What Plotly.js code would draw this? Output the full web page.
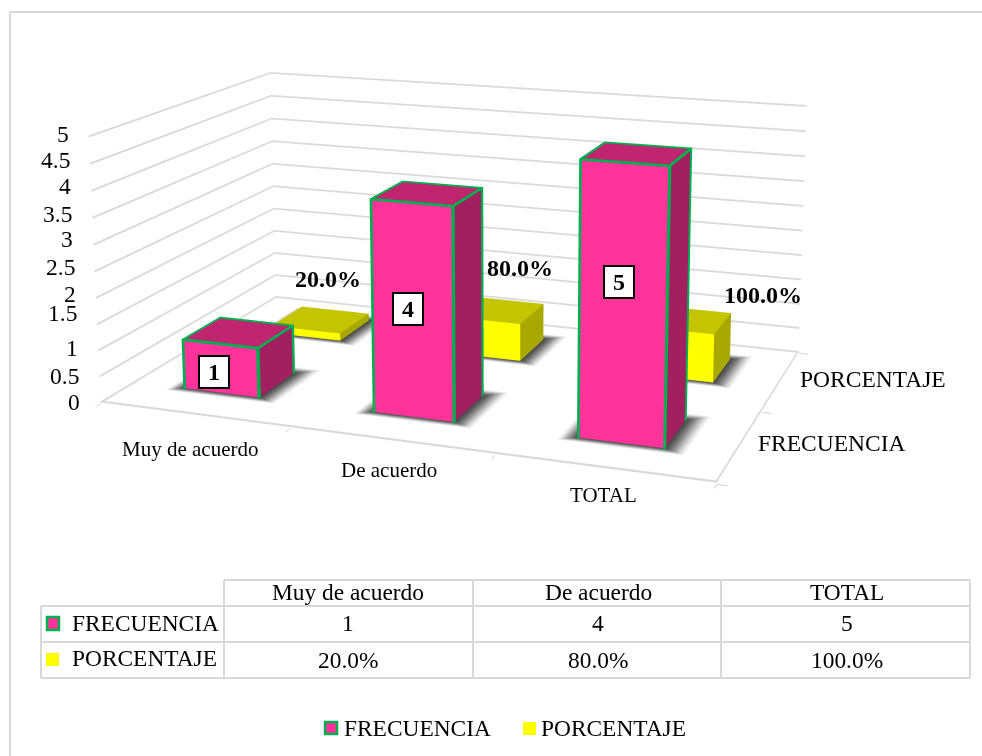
<!DOCTYPE html><html><head><meta charset="utf-8"><script src="https://cdn.plot.ly/plotly-3.0.1.min.js"></script>
<style>html,body{margin:0;width:982px;height:756px;overflow:hidden;background:#fff}#g{position:absolute;left:0;top:-643px;width:1008px;height:1536px}</style></head><body><div id="g"></div><script>
var categories=['Muy de acuerdo','De acuerdo','TOTAL'];
var seriesNames=['FRECUENCIA','PORCENTAJE'];
var frecuencia=[1,4,5];
var porcentaje=[0.2,0.8,1.0];
var zTicks=[0,0.5,1,1.5,2,2.5,3,3.5,4,4.5,5];

var W=1008,H=1536,TOP=-643,FONT='"Liberation Serif","Times New Roman",serif';
var PX=function(x){return x/W},PY=function(y){return 1-(y-TOP)/H};
var pct=function(v){return (v*100).toFixed(1)+'%'};
var PINK=['#ff3399','#a32060','#c02670'],YEL=['#ffff00','#a8a800','#c4c400'],GREEN='#00b050',GRID='#d9d9d9';
var BW=0.2,BD=0.2,XMAX=categories.length,YMAX=seriesNames.length,ZMAX=5,ZPAD=.03;
var FLAT={ambient:1,diffuse:0,specular:0,fresnel:0,roughness:1};
// one mesh made of any number of axis-aligned cuboids [x0,x1,y0,y1,z0,z1] in data units
function cuboids(list,color,faces){var m={type:'mesh3d',x:[],y:[],z:[],i:[],j:[],k:[],flatshading:true,lighting:FLAT,hoverinfo:'skip',showscale:false};
 var I=[0,0,4,4,0,0,1,1,2,2,3,3],J=[1,2,5,6,1,5,2,6,3,7,0,4],K=[2,3,6,7,5,4,6,5,7,6,4,7];
 list.forEach(function(b,n){var o=n*8;
  m.x.push(b[0],b[1],b[1],b[0],b[0],b[1],b[1],b[0]);m.y.push(b[2],b[2],b[3],b[3],b[2],b[2],b[3],b[3]);m.z.push(b[4],b[4],b[4],b[4],b[5],b[5],b[5],b[5]);
  I.forEach(function(v,t){m.i.push(v+o);m.j.push(J[t]+o);m.k.push(K[t]+o)})});
 if(faces)m.facecolor=faces;else m.color=color;return m}
function bar(cx,cy,z,c){return cuboids([[cx-BW,cx+BW,cy-BD,cy+BD,0,z]],null,[c[2],c[2],c[2],c[2],c[0],c[0],c[1],c[1],c[1],c[1],c[1],c[1]])}
var TX=.005,TY=.009,TZ=.016;
function seg(a,b){return [Math.min(a[0],b[0])-TX,Math.max(a[0],b[0])+TX,Math.min(a[1],b[1])-TY,Math.max(a[1],b[1])+TY,Math.max(0,Math.min(a[2],b[2])-TZ),Math.max(a[2],b[2])+TZ]}
function barEdges(cx,cy,z){var x0=cx-BW,x1=cx+BW,y0=cy-BD,y1=cy+BD;
 return [[[x0,y0,0],[x1,y0,0]],[[x1,y0,0],[x1,y1,0]],[[x0,y0,z],[x1,y0,z]],[[x1,y0,z],[x1,y1,z]],[[x1,y1,z],[x0,y1,z]],[[x0,y1,z],[x0,y0,z]],[[x0,y0,0],[x0,y0,z]],[[x1,y0,0],[x1,y0,z]],[[x1,y1,0],[x1,y1,z]]].map(function(e){return seg(e[0],e[1])})}
// grid ribbons on the two walls and the floor edges
var GZ=.016,grid=[];
zTicks.forEach(function(k){var z0=k-GZ,z1=k+GZ;grid.push([0,.004,0,YMAX,z0,z1],[0,XMAX,YMAX-.006,YMAX,z0,z1])});
grid.push([0,XMAX,0,.024,-.002,.002],[XMAX-.008,XMAX,0,YMAX,-.002,.002]);
var traces=[cuboids(grid,GRID)];
// soft contact shadow: nested grey layers on the floor
var shadeGrey=['#efefef','#dadada','#c0c0c0','#a5a5a5','#8a8a8a','#727272','#5e5e5e','#4c4c4c'];
shadeGrey.forEach(function(g,n){var s=.09*(shadeGrey.length-n)/shadeGrey.length,z=.006+n*.006,q=[];
 categories.forEach(function(c,i){[.5,1.5].forEach(function(cy){var cx=i+.5;q.push([cx-BW-s,cx+BW+s,cy-BD-s*.3,cy+BD+s*1.4,z,z+.002])})});
 traces.push(cuboids(q,g))});
categories.forEach(function(c,i){traces.push(bar(i+.5,1.5,porcentaje[i],YEL))});
var eds=[];
categories.forEach(function(c,i){traces.push(bar(i+.5,.5,frecuencia[i],PINK));eds=eds.concat(barEdges(i+.5,.5,frecuencia[i]))});
traces.push(cuboids(eds,GREEN));

var base={showbackground:false,showticklabels:false,title:{text:''},showspikes:false,showgrid:false,zeroline:false,showline:false,ticks:'outside',ticklen:8,tickcolor:'#cfcfcf',tickwidth:2,tickmode:'array'};
var sa=[];
function t3(x,y,z,text,o){sa.push(Object.assign({x:x,y:y,z:z,text:text,showarrow:false,font:{family:FONT,size:21,color:'#000'}},o))}
var zNudge=[0,0,2,11,4,4,6,4,5,4,2];
zTicks.forEach(function(k,n){t3(0,0,k,String(k),{xanchor:'right',xshift:-18,yshift:zNudge[n],font:{family:FONT,size:23.5,color:'#000'}})});
var catShift=[[-4,-35],[-1,-30],[0,-27]];
categories.forEach(function(c,i){t3(i+.5,0,0,c,{xshift:catShift[i][0],yshift:catShift[i][1]})});
var serShift=[[16,2],[17,1]];
seriesNames.forEach(function(s,j){t3(3,j+.5,0,s,{xanchor:'left',xshift:serShift[j][0],yshift:serShift[j][1],font:{family:FONT,size:23.5,color:'#000'}})});
var boxShift=[[-7,-2],[-5,3],[-4,24]];
frecuencia.forEach(function(v,i){t3(i+.5,.3,v/2,'<b>'+v+'</b>',{xshift:boxShift[i][0],yshift:boxShift[i][1],width:24,height:26,bgcolor:'#fff',bordercolor:'#000',borderwidth:2,borderpad:2,font:{family:FONT,size:24,color:'#000'}})});
var pctShift=[[7,41],[24,42],[79,25]];
porcentaje.forEach(function(v,i){t3(i+.5,1.5,v,'<b>'+pct(v)+'</b>',{xshift:pctShift[i][0],yshift:pctShift[i][1],font:{family:FONT,size:24,color:'#000'}})});

var shapes=[],ann=[];
function line(x0,y0,x1,y1,c,w){shapes.push({type:'line',xref:'paper',yref:'paper',x0:PX(x0),y0:PY(y0),x1:PX(x1),y1:PY(y1),line:{color:c||GRID,width:w||2}})}
function rect(x0,y0,x1,y1,f,c){shapes.push({type:'rect',xref:'paper',yref:'paper',x0:PX(x0),y0:PY(y0),x1:PX(x1),y1:PY(y1),fillcolor:f,line:{color:c||f,width:c?2.5:0}})}
function txt(x,y,text,anchor){ann.push({xref:'paper',yref:'paper',x:PX(x),y:PY(y),text:text,showarrow:false,xanchor:anchor||'center',yanchor:'middle',font:{family:FONT,size:23.4,color:'#000'}})}
line(10,12,982,12);line(10,12,10,756);
var tx=[224,473,721,970],cellDx=[-1,1,1];
tx.forEach(function(x){line(x,580,x,678)});line(41,606,41,678);
line(224,580,970,580);line(41,606,970,606);line(41,642,970,642);line(41,678,970,678);
rect(47,617,59,630,PINK[0],GREEN);rect(46,653,59,666,YEL[0]);
seriesNames.forEach(function(s,j){txt(70,[623,658][j],s,'left')});
categories.forEach(function(c,i){var m=(tx[i]+tx[i+1])/2+cellDx[i];txt(m,592,c);txt(m,623,String(frecuencia[i]));txt(m,660,pct(porcentaje[i]))});
rect(325,722,337,734,PINK[0],GREEN);rect(523,722,536,735,YEL[0]);
txt(342,728,seriesNames[0],'left');txt(539,728,seriesNames[1],'left');

var sc={domain:{x:[0,1],y:[0,1]},aspectmode:'manual',aspectratio:{x:1,y:0.6244,z:0.4320*(ZMAX+2*ZPAD)/ZMAX},
 camera:{eye:{x:1.0411,y:-2.7460,z:0.7906},center:{x:0.6559,y:-1.6560,z:0.5614},up:{x:0,y:0,z:1}},
 xaxis:Object.assign({},base,{range:[0,XMAX],tickvals:[0,1,2,3]}),
 yaxis:Object.assign({},base,{range:[0,YMAX],tickvals:[0,1,2]}),
 zaxis:Object.assign({},base,{range:[-ZPAD,ZMAX+ZPAD],tickvals:zTicks,ticks:''}),
 annotations:sa};
Plotly.newPlot('g',traces,{width:W,height:H,margin:{l:0,r:0,t:0,b:0},paper_bgcolor:'#fff',showlegend:false,scene:sc,shapes:shapes,annotations:ann},{displayModeBar:false});
</script></body></html>
